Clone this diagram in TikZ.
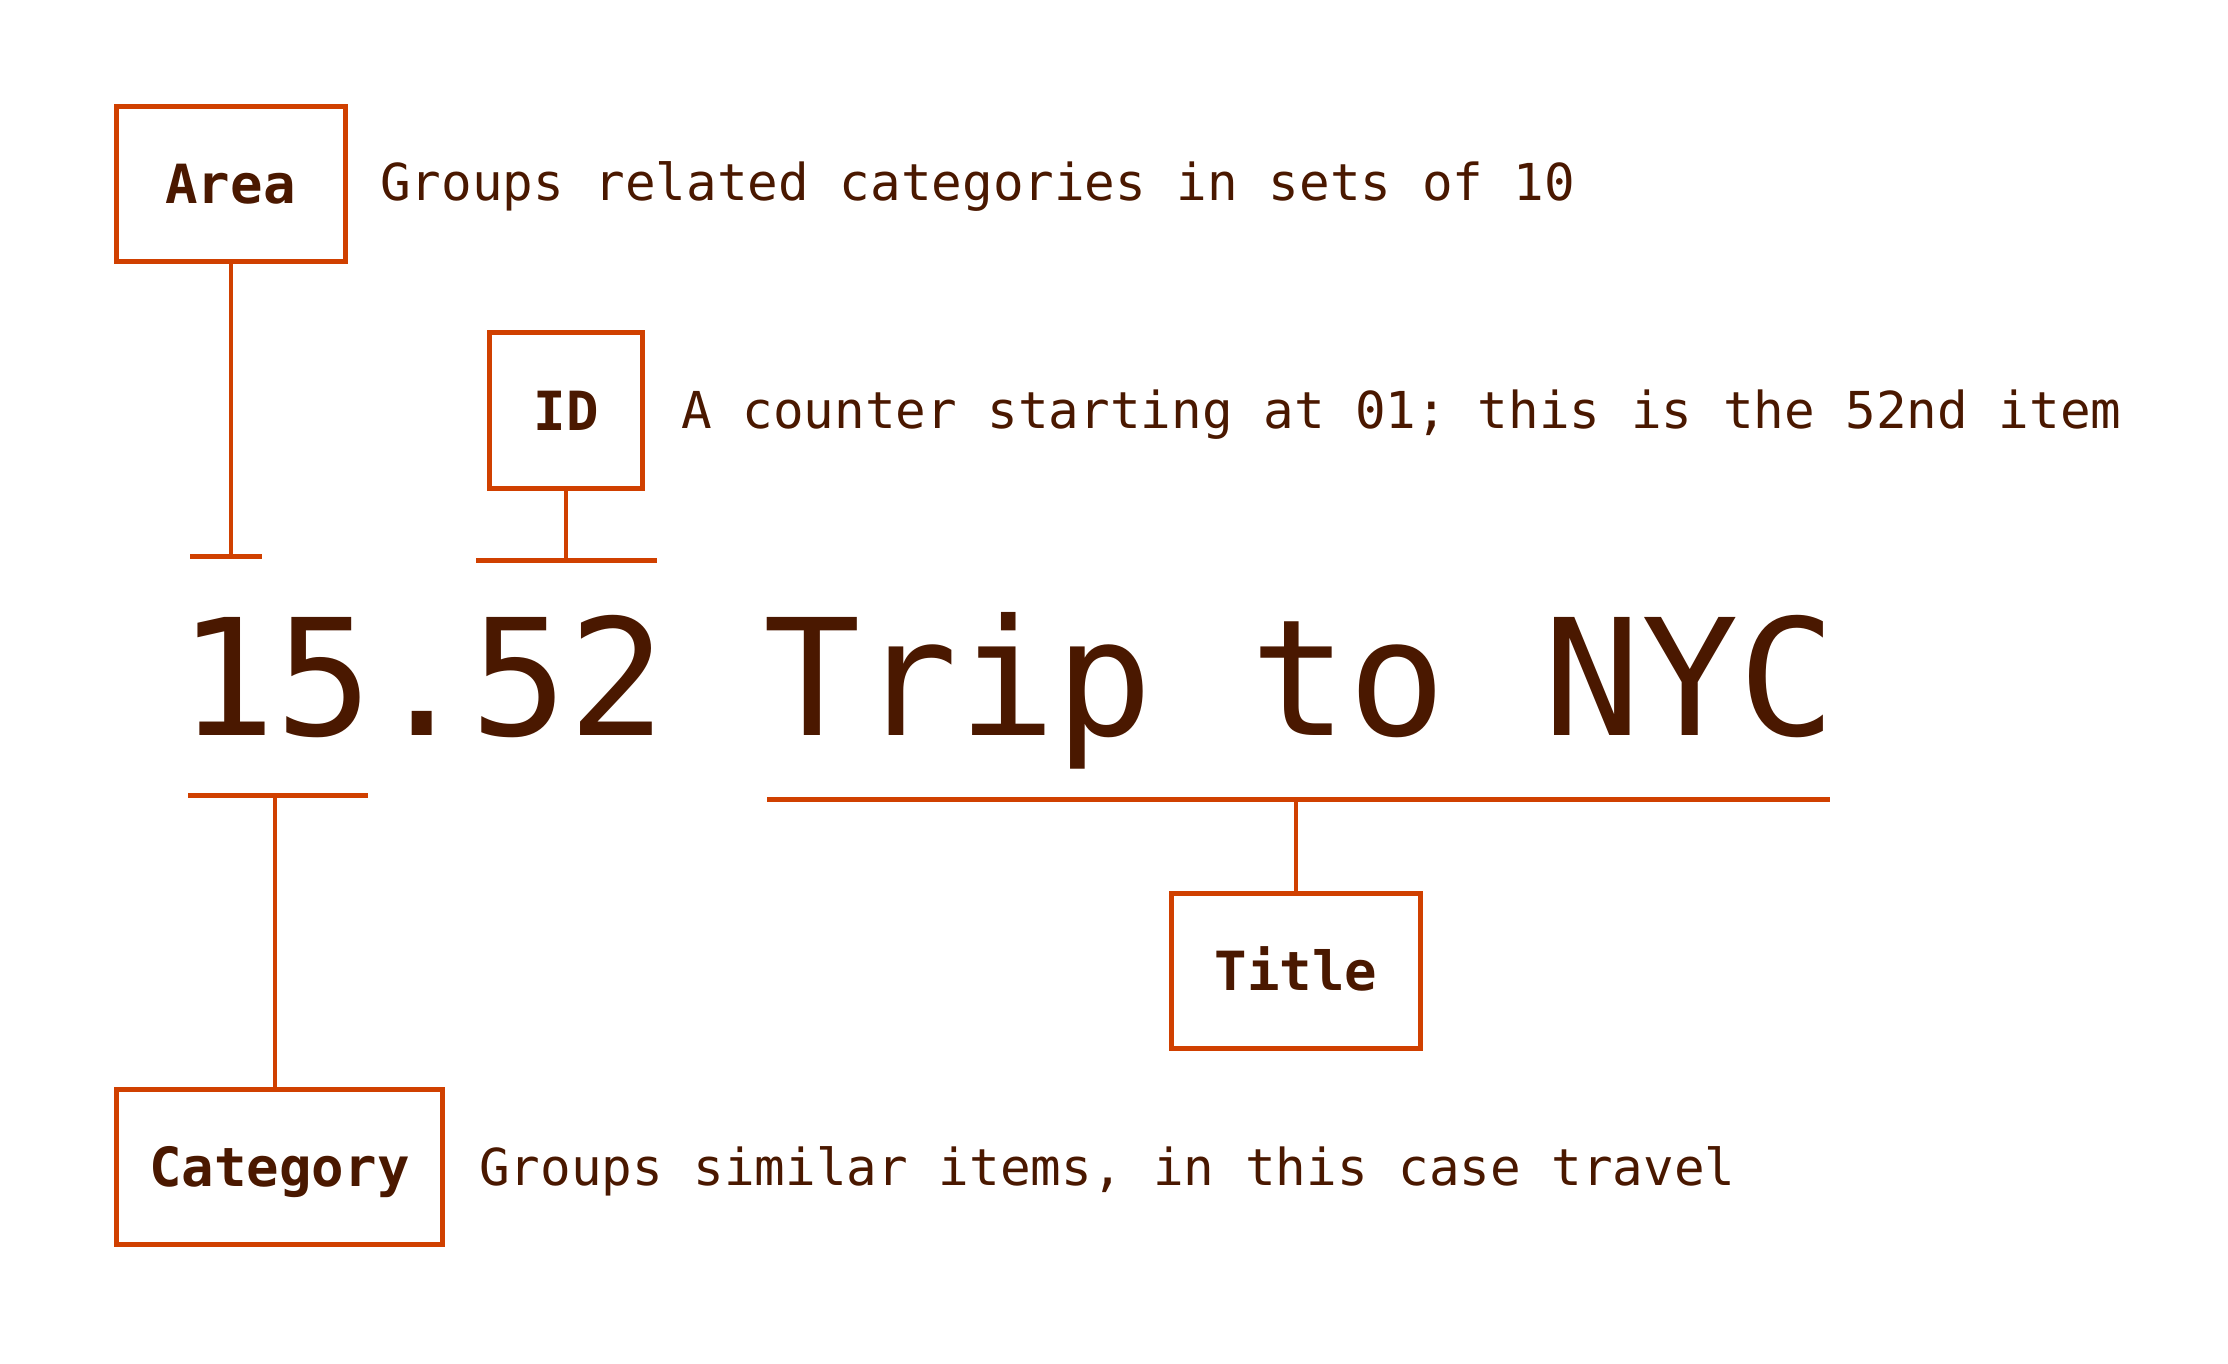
\documentclass[tikz,border=0pt]{standalone}
\usepackage{fontspec}
\newfontfamily\monofont{DejaVu Sans Mono}
\definecolor{ink}{RGB}{74,24,0}
\definecolor{rust}{RGB}{208,64,0}
\begin{document}
\begin{tikzpicture}[x=1pt,y=-1pt,
  lbl/.style={draw=rust, line width=5pt, minimum height=155pt, inner sep=0pt,
    text height=39pt, text depth=0pt, text=ink,
    font=\monofont\bfseries\fontsize{54}{60}\selectfont},
  desc/.style={anchor=base west, inner sep=0pt, text=ink,
    font=\monofont\fontsize{50.9}{60}\selectfont},
  big/.style={anchor=base west, inner sep=0pt, text=ink,
    font=\monofont\fontsize{162}{180}\selectfont},
  conn/.style={draw=rust, line width=4pt},
  tickline/.style={draw=rust, line width=5pt}]
\useasboundingbox (0,0) rectangle (2228,1364);

% label boxes
\node[lbl, minimum width=229pt] (area) at (230.5,184) {Area};
\node[lbl, minimum width=153pt] (id) at (566,410.5) {ID};
\node[lbl, minimum width=249pt] (title) at (1296,970.5) {Title};
\node[lbl, minimum width=326pt] (cat) at (279.5,1167) {Category};

% descriptions
\node[desc] (areadesc) at (380,201) {Groups related categories in sets of 10};
\node[desc] (iddesc) at (681,428) {A counter starting at 01; this is the 52nd item};
\node[desc] (catdesc) at (479,1185) {Groups similar items, in this case travel};

% main text
\node[big] (main) at (178,735) {15.52 Trip to NYC};

% area connector
\coordinate (aT) at (area.south |- 0,556);
\coordinate (aL) at (190,556);
\coordinate (aR) at (262,556);
\draw[conn] (area.south) -- (aT);
\draw[tickline] (aL) -- (aR);

% id connector
\coordinate (iT) at (id.south |- 0,560);
\coordinate (iL) at (476,560);
\coordinate (iR) at (657,560);
\draw[conn] (id.south) -- (iT);
\draw[tickline] (iL) -- (iR);

% category connector
\coordinate (cT) at (275,795.5);
\coordinate (cL) at (188,795.5);
\coordinate (cR) at (368,795.5);
\draw[tickline] (cL) -- (cR);
\draw[conn] (cT) -- (cT |- cat.north);

% title connector
\coordinate (tL) at (767,799);
\coordinate (tR) at (1830,799);
\coordinate (tT) at (title.north |- 0,799);
\draw[tickline] (tL) -- (tR);
\draw[conn] (tT) -- (title.north);
\end{tikzpicture}
\end{document}
